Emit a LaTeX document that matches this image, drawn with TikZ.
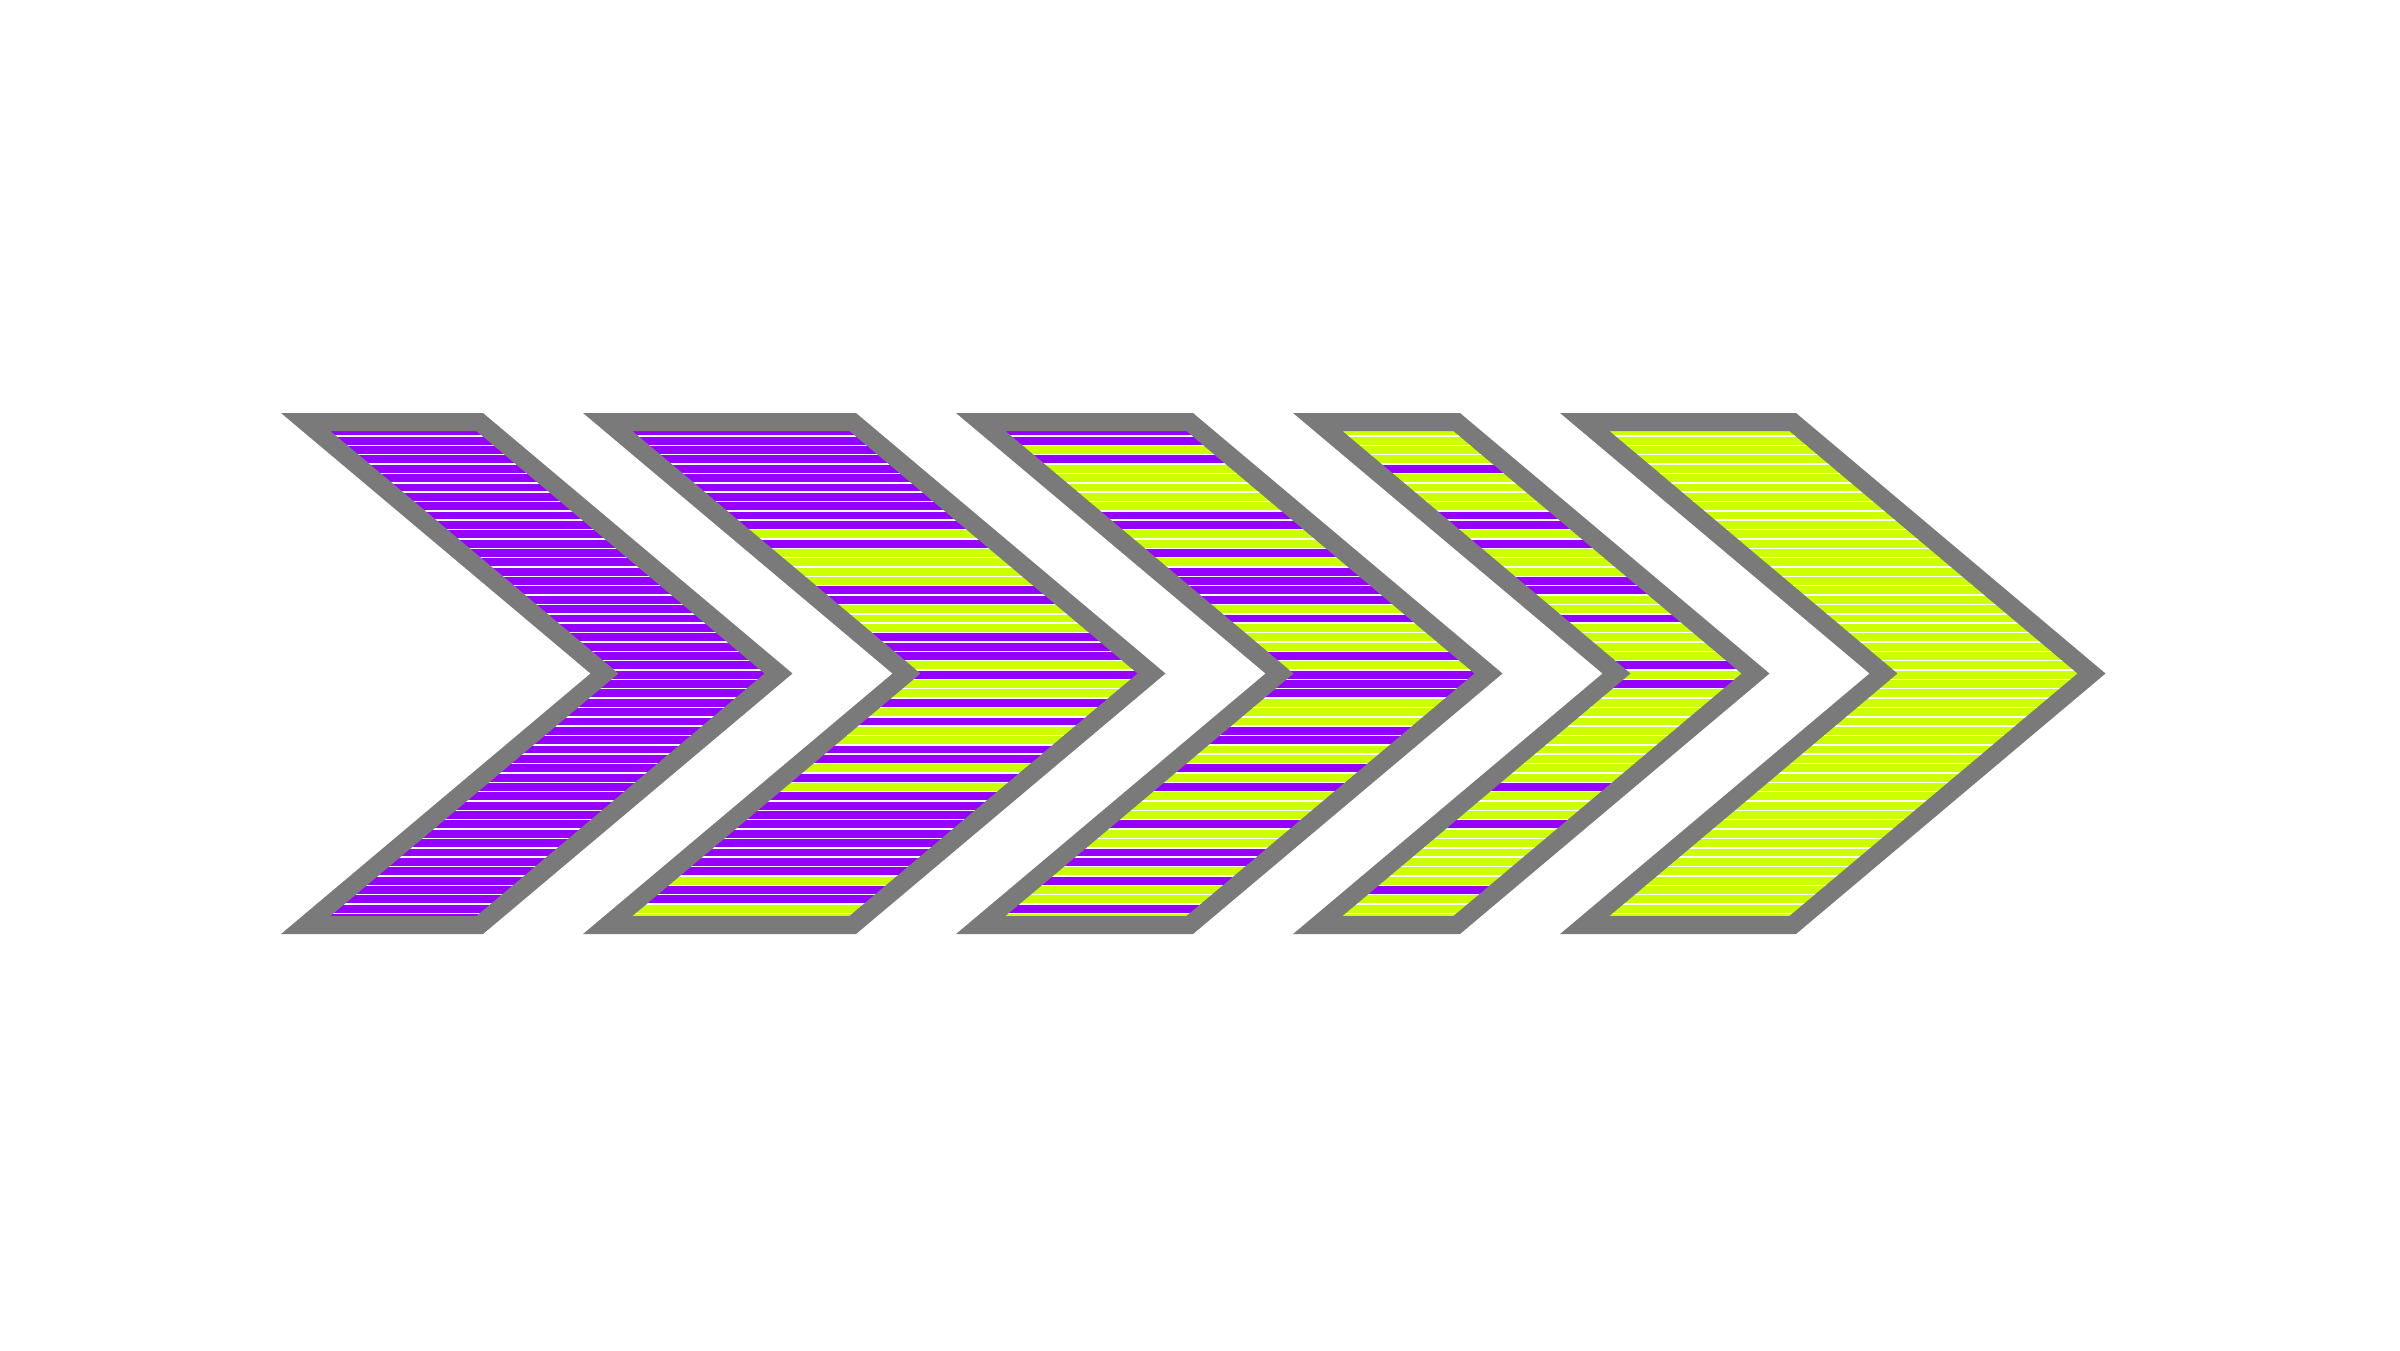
\documentclass[tikz,border=0pt]{standalone}
\usepackage{tikz}
\definecolor{rowP}{RGB}{150,0,255}
\definecolor{rowY}{RGB}{204,255,0}
\definecolor{chevgray}{RGB}{122,122,122}
\def\chevron(#1,#2)#3{
	\begin{scope}
		\clip (#1+24.7, 422) -- (#2-3.3, 422) -- (#2+295.5, 673.5) -- (#2-3.3, 925) -- (#1+24.7, 925) -- (#1+323.5, 673.5) -- cycle;
		\foreach \c [count=\j from 0] in {#3}
			\fill[row\c] (#1, 426.6+9.36*\j) rectangle (#2+300, 426.6+9.36*\j+9.4);
		\foreach \j in {1,...,52}
			\draw[white, line width=0.015cm] (#1, 426.6+9.36*\j) -- (#2+300, 426.6+9.36*\j);
	\end{scope}
	\draw[line width=0.18cm, color=chevgray] (#1+24.7, 422) -- (#2-3.3, 422) -- (#2+295.5, 673.5) -- (#2-3.3, 925) -- (#1+24.7, 925) -- (#1+323.5, 673.5) -- cycle;
}

\begin{document}
\begin{tikzpicture}[x=0.01cm, y=-0.01cm]
		%%%%% START %%%%%
		
		\useasboundingbox (0, 0) rectangle (2400, 1350);
		
		\chevron(281, 483){P,P,P,P,P,P,P,P,P,P, P,P,P,P,P,P,P,P,P,P, P,P,P,P,P,P,P,P,P,P, P,P,P,P,P,P,P,P,P,P, P,P,P,P,P,P,P,P,P,P, P,P,P}
		
		\chevron(583, 856){P,P,P,P,P,P,P,P,P,P, P,Y,P,Y,Y,Y,Y,P,P,Y, Y,Y,P,P,P,Y,P,Y,Y,P, Y,P,Y,Y,P,P,Y,P,Y,P, P,P,P,P,P,P,P,P,Y,P, P,Y,Y}
		
		\chevron(956, 1193){P,P,Y,P,Y,Y,Y,Y,Y,P, P,Y,Y,P,Y,P,P,P,P,Y, P,Y,Y,Y,P,Y,P,P,P,Y, Y,Y,P,P,Y,Y,P,Y,P,Y, Y,Y,P,Y,Y,P,P,Y,P,Y, Y,P,Y}
		
		\chevron(1293, 1460){Y,Y,Y,Y,P,Y,Y,Y,Y,P, P,Y,P,Y,Y,Y,P,P,Y,Y, P,Y,Y,Y,Y,P,Y,P,Y,Y, Y,Y,Y,Y,Y,Y,Y,Y,P,Y, Y,Y,P,Y,Y,Y,Y,Y,Y,P, Y,Y,Y}
		
		\chevron(1560, 1796){Y,Y,Y,Y,Y,Y,Y,Y,Y,Y, Y,Y,Y,Y,Y,Y,Y,Y,Y,Y, Y,Y,Y,Y,Y,Y,Y,Y,Y,Y, Y,Y,Y,Y,Y,Y,Y,Y,Y,Y, Y,Y,Y,Y,Y,Y,Y,Y,Y,Y, Y,Y,Y}
		
		%%%%% END %%%%%
\end{tikzpicture}
\end{document}
